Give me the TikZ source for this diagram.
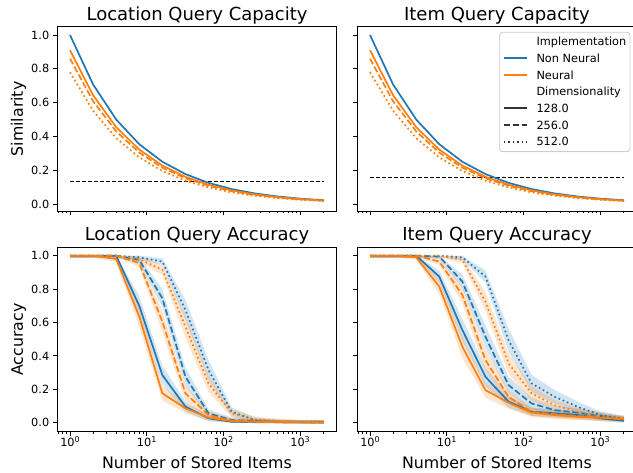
\documentclass[tikz,border=0pt]{standalone}
\usepackage{fontspec}
\setmainfont{DejaVu Sans}
\definecolor{mblue}{HTML}{1F77B4}
\definecolor{morange}{HTML}{FF7F0E}
\definecolor{lgedge}{HTML}{CCCCCC}
\definecolor{hgray}{HTML}{333333}
\tikzset{
  spine/.style={line width=0.9pt, black},
  majtick/.style={line width=0.9pt, black},
  mintick/.style={line width=0.68pt, black},
  ticklbl/.style={font=\fontsize{11.3}{13.5}\selectfont, inner sep=0pt},
  axlbl/.style={font=\fontsize{15.8}{19}\selectfont, inner sep=0pt},
  ttl/.style={font=\fontsize{18}{21.6}\selectfont, inner sep=0pt},
  lgtxt/.style={font=\fontsize{11.3}{13.5}\selectfont, inner sep=0pt, anchor=base west},
  dline/.style={line width=1.7pt, line join=round},
  sline/.style={dline},
  dashline/.style={dline, dash pattern=on 6.3pt off 2.7pt},
  dotline/.style={dline, dash pattern=on 1.7pt off 2.8pt},
  refline/.style={line width=1.1pt, black, dash pattern=on 4.2pt off 1.8pt},
  band/.style={opacity=0.2},
}
\newcommand\xtickset[4]{%
  \foreach \j in {0,...,3}{\draw[majtick] ({#1+12.7+76.7*\j},#2) -- ++(0,3.95);}
  \foreach \k in {-1,...,3}{\foreach \m in {2,...,9}{%
     \pgfmathsetmacro\tkL{\k+log10(\m)}%
     \pgfmathtruncatemacro\tkOK{((\tkL>-0.1656)&&(\tkL<3.4767))?1:0}%
     \ifnum\tkOK=1 \draw[mintick] ({#1+12.7+76.7*\tkL},#2) -- ++(0,2.26);\fi
  }}
  \ifnum#3=1
    \foreach \j in {0,...,3}{\node[ticklbl,anchor=base] at ({#1+12.7+76.7*\j},#4) {10\raisebox{0.42em}{\fontsize{8}{8}\selectfont\j}};}
  \fi
}
\newcommand\ytickset[4]{%
  \foreach \v/\t in {0/0.0,0.2/0.2,0.4/0.4,0.6/0.6,0.8/0.8,1/1.0}{%
    \draw[majtick] (#1,{#2-#3*\v}) -- ++(-3.95,0);
    \ifnum#4=1 \node[ticklbl,anchor=east] at ({#1-7.9},{#2-#3*\v}) {\t};\fi
  }
}
\newcommand\defcurve[2]{%
  \foreach \v [count=\i from 0] in {#2}{%
    \pgfmathsetmacro\cvH{0.22*\v*(1-\v)+0.012}%
    \pgfmathsetmacro\cvU{min(\v+\cvH,1.0)}%
    \pgfmathsetmacro\cvL{max(\v-\cvH,0)}%
    \coordinate (#1p\i) at (\i,\v);
    \coordinate (#1u\i) at (\i,\cvU);
    \coordinate (#1l\i) at (\i,\cvL);
  }%
}
\newcommand\drawband[2]{\fill[#2,band] (#1u0) \foreach \i in {1,...,11}{-- (#1u\i)} \foreach \i in {11,10,...,0}{-- (#1l\i)} -- cycle;}
\newcommand\drawcurve[2]{\draw[#2] (#1p0) \foreach \i in {1,...,11}{-- (#1p\i)};}

\begin{document}
\begin{tikzpicture}[x=1pt,y=-1pt]
\useasboundingbox (0,0) rectangle (633,473);
\clip (0,0) rectangle (633,473);

% titles and axis labels
\node[ttl,anchor=base] (t1) at (197,21) {Location Query Capacity};
\node[ttl,anchor=base] (t2) at (497,21) {Item Query Capacity};
\node[ttl,anchor=base] (t3) at (197,240.5) {Location Query Accuracy};
\node[ttl,anchor=base] (t4) at (497,240.5) {Item Query Accuracy};
\node[axlbl,anchor=base,rotate=90] (yl1) at (23,118.9) {Similarity};
\node[axlbl,anchor=base,rotate=90] (yl2) at (23,339.5) {Accuracy};
\node[axlbl,anchor=base] (xl1) at (197,468.5) {Number of Stored Items};
\node[axlbl,anchor=base] (xl2) at (497,468.5) {Number of Stored Items};

% ---------- top-left: location capacity
\begin{scope}
  \clip (57.3,26.7) rectangle ++(279.4,184.4);
  \begin{scope}[shift={(70pt,-204pt)},x=23.09pt,y=169pt]
    \draw[refline] (0,0.132) -- (11,0.132);
    \draw[sline,mblue] plot[domain=0:11,samples=12] (\x,{2^(-\x/2)});
    \draw[sline,morange] plot[domain=0:11,samples=12] (\x,{0.91*2^(-\x/2)});
    \draw[dashline,morange] plot[domain=0:11,samples=12] (\x,{0.86*2^(-\x/2)});
    \draw[dotline,morange] plot[domain=0:11,samples=12] (\x,{0.78*2^(-\x/2)});
  \end{scope}
\end{scope}

% ---------- top-right: item capacity
\begin{scope}
  \clip (357.3,26.7) rectangle ++(279.4,184.4);
  \begin{scope}[shift={(370pt,-204pt)},x=23.09pt,y=169pt]
    \draw[refline] (0,0.156) -- (11,0.156);
    \draw[sline,mblue] plot[domain=0:11,samples=12] (\x,{2^(-\x/2)});
    \draw[sline,morange] plot[domain=0:11,samples=12] (\x,{0.91*2^(-\x/2)});
    \draw[dashline,morange] plot[domain=0:11,samples=12] (\x,{0.86*2^(-\x/2)});
    \draw[dotline,morange] plot[domain=0:11,samples=12] (\x,{0.78*2^(-\x/2)});
  \end{scope}
\end{scope}

% ---------- bottom-left: location accuracy
\begin{scope}
  \clip (57.3,247.3) rectangle ++(279.4,184.4);
  \begin{scope}[shift={(70pt,-422.7pt)},x=23.09pt,y=167pt]
    \defcurve{LBa}{1,1,1,0.70,0.285,0.096,0.026,0.006,0.003,0.002,0.001,0.001}
    \defcurve{LOa}{1,1,0.98,0.635,0.176,0.086,0.03,0.01,0.005,0.003,0.002,0.001}
    \defcurve{LBb}{1,1,1,0.975,0.745,0.275,0.056,0.016,0.01,0.005,0.003,0.002}
    \defcurve{LOb}{1,1,1,0.955,0.605,0.176,0.046,0.012,0.006,0.003,0.002,0.001}
    \defcurve{LBc}{1,1,1,0.99,0.965,0.675,0.315,0.066,0.016,0.006,0.003,0.002}
    \defcurve{LOc}{1,1,1,0.98,0.915,0.575,0.235,0.056,0.02,0.01,0.005,0.003}
    \drawband{LBa}{mblue}\drawband{LBb}{mblue}\drawband{LBc}{mblue}
    \drawband{LOa}{morange}\drawband{LOb}{morange}\drawband{LOc}{morange}
    \drawcurve{LBa}{sline,mblue}\drawcurve{LBb}{dashline,mblue}\drawcurve{LBc}{dotline,mblue}
    \drawcurve{LOa}{sline,morange}\drawcurve{LOb}{dashline,morange}\drawcurve{LOc}{dotline,morange}
  \end{scope}
\end{scope}

% ---------- bottom-right: item accuracy
\begin{scope}
  \clip (357.3,247.3) rectangle ++(279.4,184.4);
  \begin{scope}[shift={(370pt,-422.7pt)},x=23.09pt,y=167pt]
    \defcurve{IBa}{1,1,1,0.875,0.555,0.275,0.126,0.066,0.056,0.046,0.026,0.012}
    \defcurve{IOa}{1,1,0.99,0.815,0.455,0.195,0.12,0.06,0.045,0.035,0.03,0.025}
    \defcurve{IBb}{1,1,1,0.995,0.845,0.515,0.225,0.115,0.075,0.06,0.04,0.02}
    \defcurve{IOb}{1,1,1,0.965,0.765,0.375,0.155,0.065,0.05,0.04,0.03,0.02}
    \defcurve{IBc}{1,1,1,1,0.99,0.875,0.495,0.235,0.155,0.095,0.045,0.025}
    \defcurve{IOc}{1,1,1,1,0.975,0.725,0.355,0.175,0.105,0.065,0.04,0.02}
    \drawband{IBa}{mblue}\drawband{IBb}{mblue}\drawband{IBc}{mblue}
    \drawband{IOa}{morange}\drawband{IOb}{morange}\drawband{IOc}{morange}
    \drawcurve{IBa}{sline,mblue}\drawcurve{IBb}{dashline,mblue}\drawcurve{IBc}{dotline,mblue}
    \drawcurve{IOa}{sline,morange}\drawcurve{IOb}{dashline,morange}\drawcurve{IOc}{dotline,morange}
  \end{scope}
\end{scope}

% ---------- ticks
\xtickset{57.3}{211.1}{0}{0}
\xtickset{357.3}{211.1}{0}{0}
\xtickset{57.3}{431.7}{1}{447}
\xtickset{357.3}{431.7}{1}{447}
\ytickset{57.3}{204}{169}{1}
\ytickset{357.3}{204}{169}{0}
\ytickset{57.3}{422.7}{167}{1}
\ytickset{357.3}{422.7}{167}{0}

% ---------- spines
\draw[spine] (57.3,26.7) rectangle ++(279.4,184.4);
\draw[spine] (357.3,26.7) rectangle ++(279.4,184.4);
\draw[spine] (57.3,247.3) rectangle ++(279.4,184.4);
\draw[spine] (357.3,247.3) rectangle ++(279.4,184.4);

% ---------- legend
\draw[lgedge, line width=0.9pt, fill=white, fill opacity=0.8, rounded corners=3pt] (499.7,32.3) rectangle (630,151.7);
\node[lgtxt] (lg1) at (536.3,45.8) {Implementation};
\node[lgtxt] (lg2) at (536.3,62.4) {Non Neural};
\node[lgtxt] (lg3) at (536.3,79.1) {Neural};
\node[lgtxt] (lg4) at (536.3,95.8) {Dimensionality};
\node[lgtxt] (lg5) at (536.3,112.4) {128.0};
\node[lgtxt] (lg6) at (536.3,129.1) {256.0};
\node[lgtxt] (lg7) at (536.3,145.8) {512.0};
\draw[sline,mblue] (503.7,58.3) -- (527.3,58.3);
\draw[sline,morange] (503.7,75) -- (527.3,75);
\draw[sline,hgray] (503.7,108.3) -- (527.3,108.3);
\draw[dashline,hgray] (503.7,125) -- (527.3,125);
\draw[dotline,hgray] (503.7,141.7) -- (527.3,141.7);
\end{tikzpicture}
\end{document}
